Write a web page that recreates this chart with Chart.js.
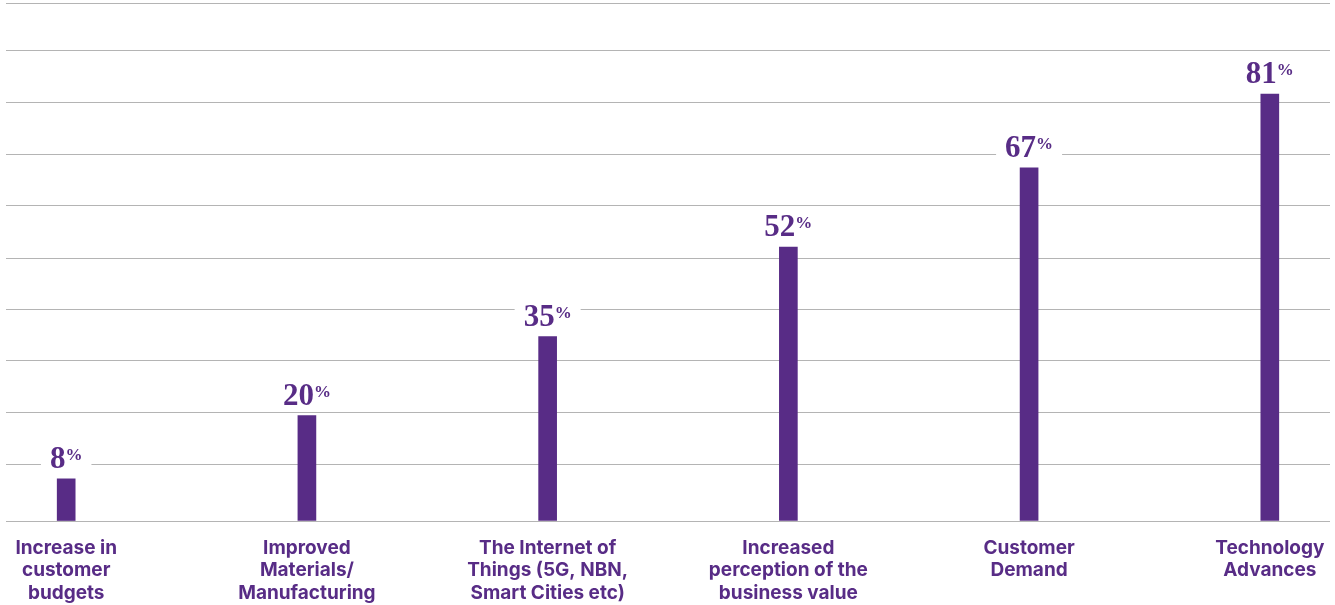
<!DOCTYPE html>
<html>
<head>
<meta charset="utf-8">
<script src="https://cdn.jsdelivr.net/npm/chart.js@4"></script>
<style>
  html, body { margin: 0; padding: 0; background: #fff; }
  #wrap { width: 1335px; height: 605px; position: relative; }
</style>
</head>
<body>
<div id="wrap"><canvas id="chart"></canvas></div>
<script>
// 類別（多行標籤）
const categories = [
    ['Increase in', 'customer', 'budgets'],
    ['Improved', 'Materials/', 'Manufacturing'],
    ['The Internet of', 'Things (5G, NBN,', 'Smart Cities etc)'],
    ['Increased', 'perception of the', 'business value'],
    ['Customer', 'Demand'],
    ['Technology', 'Advances']
];
// 百分比數值
const values = [8, 20, 35, 52, 67, 81];
// 背景格線所在的數值
const gridValues = [0, 10.8, 20.6, 30.4, 40.2, 49.9, 59.8, 69.6, 79.4, 89.3, 98.3];

const purple = '#582c86';

// 在柱子上方畫數值（白底蓋住格線）
const valueLabels = {
    id: 'valueLabels',
    afterDatasetsDraw(chart) {
        const ctx = chart.ctx;
        const meta = chart.getDatasetMeta(0);
        meta.data.forEach((bar, i) => {
            const num = String(values[i]);
            ctx.save();
            ctx.font = 'bold 31px "Liberation Serif", serif';
            const wn = ctx.measureText(num).width;
            ctx.font = 'bold 17px "Liberation Serif", serif';
            const wp = ctx.measureText('%').width;
            const total = wn + wp;
            const left = bar.x - total / 2;
            const base = bar.y - 11;
            ctx.fillStyle = '#fff';
            ctx.fillRect(left - 9, base - 26, total + 18, 30);
            ctx.fillStyle = purple;
            ctx.textBaseline = 'alphabetic';
            ctx.textAlign = 'left';
            ctx.font = 'bold 31px "Liberation Serif", serif';
            ctx.fillText(num, left, base);
            ctx.font = 'bold 17px "Liberation Serif", serif';
            ctx.fillText('%', left + wn, base - 8);
            ctx.restore();
        });
    }
};

new Chart(document.getElementById('chart').getContext('2d'), {
    type: 'bar',
    data: {
        datasets: [{
            data: values.map((v, i) => ({ x: i, y: v })),
            backgroundColor: purple,
            borderWidth: 0,
            barThickness: 18
        }]
    },
    options: {
        responsive: true,
        maintainAspectRatio: false,
        animation: false,
        devicePixelRatio: 1,
        layout: { padding: { top: 3, left: 6, right: 5, bottom: 0 } },
        plugins: {
            legend: { display: false },
            tooltip: { enabled: false }
        },
        scales: {
            x: {
                type: 'linear',
                min: -0.25,
                max: 5.25,
                offset: false,
                grid: { display: false },
                border: { display: false },
                afterBuildTicks: axis => {
                    axis.ticks = categories.map((c, i) => ({ value: i }));
                },
                afterFit: axis => { axis.height = 84; },
                ticks: {
                    autoSkip: false,
                    maxRotation: 0,
                    padding: 8,
                    color: purple,
                    font: { family: 'Inter', weight: '700', size: 19, lineHeight: 1.18 },
                    callback: v => categories[v] || ''
                }
            },
            y: {
                min: 0,
                max: 98.3,
                border: { display: false },
                grid: { color: '#b4b4b4', lineWidth: 1, drawTicks: false },
                afterBuildTicks: axis => {
                    axis.ticks = gridValues.map(v => ({ value: v }));
                },
                afterFit: axis => { axis.width = 0; },
                ticks: { display: false }
            }
        }
    },
    plugins: [valueLabels]
});
</script>
</body>
</html>
